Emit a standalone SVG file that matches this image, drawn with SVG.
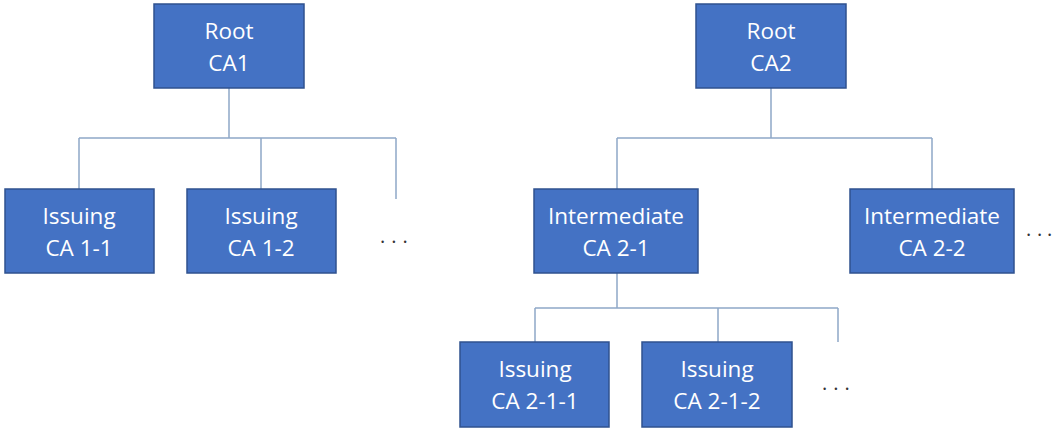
<svg xmlns="http://www.w3.org/2000/svg" width="1055" height="428" viewBox="0 0 1055 428">
<style>
.box{fill:#4472C4;stroke:#2F528F;stroke-width:1.5}
.t{fill:#fff;font-family:"Open Sans","Liberation Sans",sans-serif;font-size:22.5px;text-anchor:middle}
.c{fill:none;stroke:#8FA8C8;stroke-width:1.5}
.d{fill:#333;font-family:"Open Sans","Liberation Sans",sans-serif;font-size:20px;letter-spacing:6px}
.d2{fill:#333;font-family:"Open Sans","Liberation Sans",sans-serif;font-size:20px}
</style>
<rect width="1055" height="428" fill="#fff"/>
<g id="connectors">
<path class="c" d="M229 88V138M79 138H396M79 138V189M261 138V189M396 138V199"/>
<path class="c" d="M771 88V138M617 138H932M617 138V189M932 138V189"/>
<path class="c" d="M617 273V308M535 308H838M535 308V342M718 308V342M838 308V342"/>
</g>
<g id="root-ca1"><rect class="box" x="154" y="4" width="150" height="84"/><text class="t" x="229" y="39">Root</text><text class="t" x="229" y="71">CA1</text></g>
<g id="root-ca2"><rect class="box" x="696" y="4" width="150" height="84"/><text class="t" x="771" y="39">Root</text><text class="t" x="771" y="71">CA2</text></g>
<g id="issuing-1-1"><rect class="box" x="5" y="189" width="149" height="84"/><text class="t" x="79" y="224">Issuing</text><text class="t" x="79" y="256">CA 1-1</text></g>
<g id="issuing-1-2"><rect class="box" x="187" y="189" width="149" height="84"/><text class="t" x="261" y="224">Issuing</text><text class="t" x="261" y="256">CA 1-2</text></g>
<g id="dots-1"><text class="d" x="380" y="243">...</text></g>
<g id="intermediate-2-1"><rect class="box" x="534" y="189" width="164" height="84"/><text class="t" x="616" y="224">Intermediate</text><text class="t" x="616" y="256">CA 2-1</text></g>
<g id="intermediate-2-2"><rect class="box" x="850" y="189" width="164" height="84"/><text class="t" x="932" y="224">Intermediate</text><text class="t" x="932" y="256">CA 2-2</text></g>
<g id="dots-2"><text class="d2" x="1026 1037 1047" y="236">...</text></g>
<g id="issuing-2-1-1"><rect class="box" x="460" y="342" width="149" height="85"/><text class="t" x="535" y="377">Issuing</text><text class="t" x="535" y="409">CA 2-1-1</text></g>
<g id="issuing-2-1-2"><rect class="box" x="642" y="342" width="150" height="85"/><text class="t" x="717" y="377">Issuing</text><text class="t" x="717" y="409">CA 2-1-2</text></g>
<g id="dots-3"><text class="d" x="822" y="390">...</text></g>
</svg>
